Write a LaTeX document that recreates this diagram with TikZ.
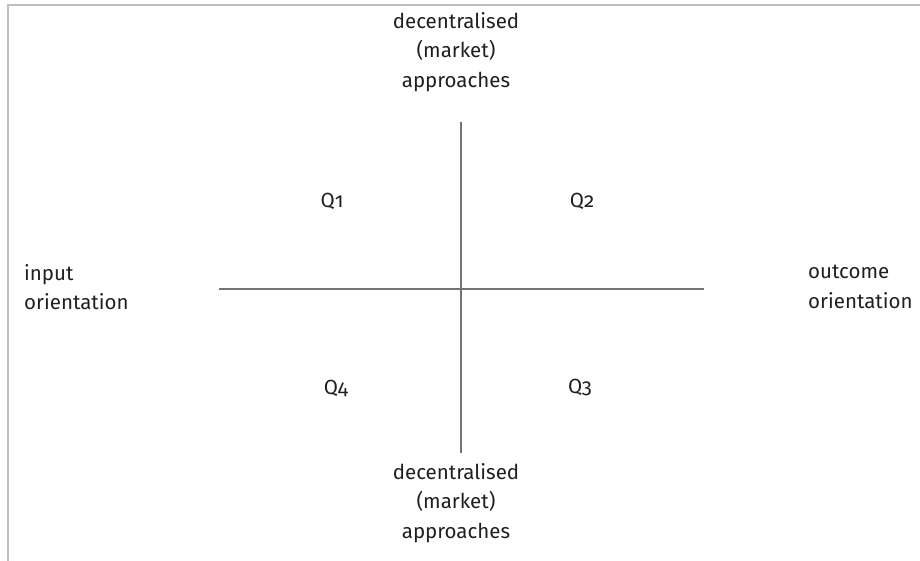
\documentclass[tikz,border=0pt]{standalone}
\usepackage{fontspec}
\setmainfont{Fira Sans}[Numbers=OldStyle]
\begin{document}
\begin{tikzpicture}[x=1pt,y=-1pt,
  axis/.style={draw=black!55,line width=1.8pt},
  frame/.style={draw=black!25,line width=1.5pt},
  lbl/.style={text=black!88,font=\fontsize{20.5}{29.5}\selectfont,align=center,inner sep=0pt},
  sidelbl/.style={lbl,align=left},
  quad/.style={text=black!88,font=\fontsize{20.5}{24}\selectfont,inner sep=0pt}]
  \useasboundingbox (0,0) rectangle (920,561);
  % frame edges
  \coordinate (ftl) at (8,5);
  \coordinate (ftr) at (920,5);
  \coordinate (fbl) at (8,561);
  \draw[frame] (ftr) -- (ftl) -- (fbl);
  % axes
  \coordinate (left) at (219,289);
  \coordinate (right) at (704,289);
  \coordinate (top) at (461,122);
  \coordinate (bottom) at (461,453);
  \draw[axis] (left) -- (right);
  \draw[axis] (top) -- (bottom);
  % axis labels
  \node[lbl] (ntop) at (456,52) {decentralised\\(market)\\approaches};
  \node[lbl] (nbot) at (456,503) {decentralised\\(market)\\approaches};
  \node[sidelbl,anchor=west] (nleft) at (24,287) {input\\orientation};
  \node[sidelbl,anchor=west] (nright) at (808,287) {outcome\\orientation};
  % quadrants
  \node[quad] (q1) at (332,201) {Q1};
  \node[quad] (q2) at (582,201) {Q2};
  \node[quad] (q4) at (336,388) {Q4};
  \node[quad] (q3) at (580,388) {Q3};
\end{tikzpicture}
\end{document}
